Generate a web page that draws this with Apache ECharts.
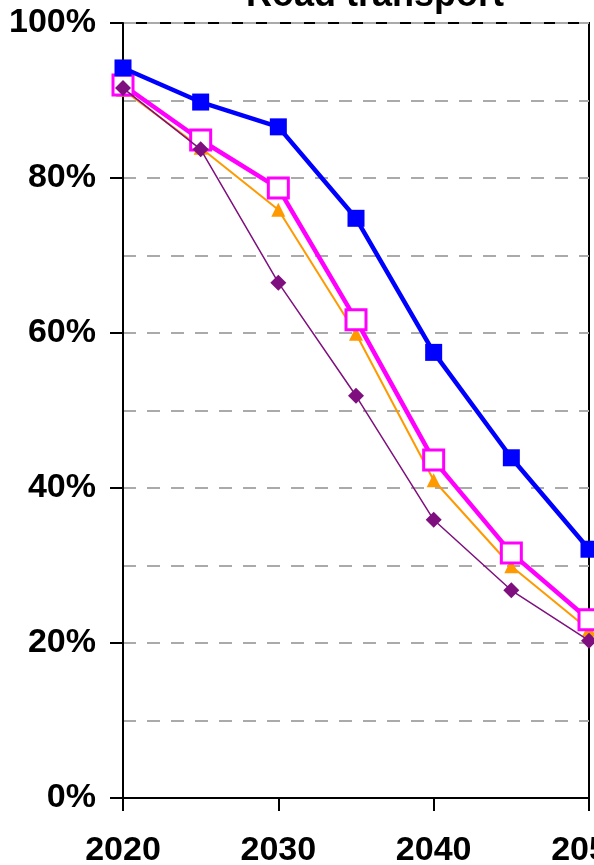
<!DOCTYPE html>
<html>
<head>
<meta charset="utf-8">
<script src="https://cdn.jsdelivr.net/npm/echarts@6/dist/echarts.min.js"></script>
<style>
  html, body { margin: 0; padding: 0; background: #fff; }
  #chart { width: 594px; height: 865px; }
</style>
</head>
<body>
<div id="chart"></div>
<script>
// Share of road transport energy demand by scenario, 2020–2050
const years = [2020, 2025, 2030, 2035, 2040, 2045, 2050];
const seriesBlue    = [94.2, 89.8, 86.6, 74.8, 57.5, 43.9, 32.1];
const seriesMagenta = [92.0, 84.9, 78.7, 61.7, 43.6, 31.6, 23.0];
const seriesOrange  = [91.4, 83.9, 75.9, 59.9, 41.0, 29.9, 21.7];
const seriesPurple  = [91.6, 83.7, 66.5, 51.9, 35.9, 26.8, 20.3];
const yTicks = [0, 20, 40, 60, 80, 100];

const pairs = vals => years.map((y, i) => [y, vals[i]]);
const font = 'Liberation Sans, Arial, sans-serif';

const chart = echarts.init(document.getElementById('chart'), null, { renderer: 'canvas' });
chart.setOption({
  animation: false,
  backgroundColor: '#fff',
  title: {
    text: 'Road transport',
    left: 370,
    textAlign: 'center',
    top: -27,
    textStyle: { fontFamily: font, fontSize: 36, fontWeight: 'bold', color: '#000' }
  },
  grid: {
    left: 123, right: 5, top: 23, bottom: 67,
    outerBoundsMode: 'none', containLabel: false,
    show: true, borderColor: '#000', borderWidth: 2, backgroundColor: 'transparent'
  },
  xAxis: {
    type: 'value', min: 2020, max: 2050, interval: 10,
    axisLine: { show: true, lineStyle: { color: '#000', width: 2 } },
    axisTick: { show: true, inside: false, length: 13, lineStyle: { color: '#000', width: 2 } },
    axisLabel: {
      margin: 36, color: '#000', fontFamily: font, fontSize: 34, fontWeight: 'bold',
      hideOverlap: false,
      formatter: v => String(v)
    },
    splitLine: { show: false }
  },
  yAxis: {
    type: 'value', min: yTicks[0], max: yTicks[yTicks.length - 1], interval: 20,
    axisLine: { show: true, lineStyle: { color: '#000', width: 2 } },
    axisTick: { show: true, length: 13, lineStyle: { color: '#000', width: 2 } },
    axisLabel: {
      margin: 27, color: '#000', fontFamily: font, fontSize: 34, fontWeight: 'bold',
      formatter: v => v + '%'
    },
    splitLine: { show: true, lineStyle: { color: '#AAAAAA', width: 2, type: [13, 11] } },
    minorTick: { show: false, splitNumber: 2 },
    minorSplitLine: { show: true, lineStyle: { color: '#AAAAAA', width: 2, type: [13, 11] } }
  },
  series: [
    {
      name: 'Scenario C', type: 'line', data: pairs(seriesOrange), z: 2,
      lineStyle: { color: '#FF9900', width: 2 },
      itemStyle: { color: '#FF9900' },
      symbol: 'triangle', symbolSize: 14, showAllSymbol: true
    },
    {
      name: 'Scenario B', type: 'line', data: pairs(seriesMagenta), z: 3,
      lineStyle: { color: '#FF00FF', width: 4.5 },
      itemStyle: { color: '#fff', borderColor: '#FF00FF', borderWidth: 3 },
      symbol: 'rect', symbolSize: 20, showAllSymbol: true
    },
    {
      name: 'Scenario D', type: 'line', data: pairs(seriesPurple), z: 4,
      lineStyle: { color: '#7F0F7F', width: 1.5 },
      itemStyle: { color: '#7F0F7F' },
      symbol: 'diamond', symbolSize: 16, showAllSymbol: true
    },
    {
      name: 'Scenario A', type: 'line', data: pairs(seriesBlue), z: 5,
      lineStyle: { color: '#0000FF', width: 4.5 },
      itemStyle: { color: '#0000FF' },
      symbol: 'rect', symbolSize: 17, showAllSymbol: true
    }
  ]
});
</script>
</body>
</html>
